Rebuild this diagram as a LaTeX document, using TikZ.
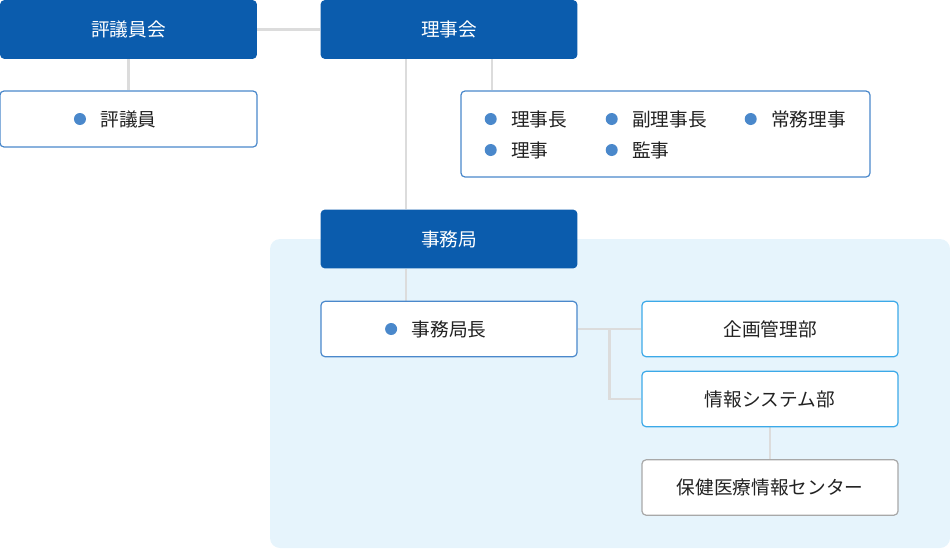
\documentclass[tikz,border=0pt]{standalone}
\usepackage{fontspec}
\setmainfont{Noto Sans CJK JP}
\usepackage{xcolor}
\usepackage{tikz}
\usetikzlibrary{calc,backgrounds}

\definecolor{headblue}{HTML}{0B5CAD}
\definecolor{itemblue}{HTML}{4A88CB}
\definecolor{deptblue}{HTML}{3CA9E8}
\definecolor{centergray}{HTML}{A8A8A8}
\definecolor{bgblue}{HTML}{E6F4FC}
\definecolor{linkgray}{HTML}{DCDCDC}
\definecolor{inkblack}{HTML}{222222}

\begin{document}
\begin{tikzpicture}[x=0.75pt,y=-0.75pt,
  every node/.style={font=\fontsize{14}{16}\selectfont,text=inkblack},
  head/.style={fill=headblue,text=white,rounded corners=3pt,inner sep=0pt,minimum width=192.5pt,minimum height=44pt},
  member/.style={draw=itemblue,line width=0.9pt,fill=white,rounded corners=3pt,inner sep=0pt},
  dept/.style={draw=deptblue,line width=0.9pt,fill=white,rounded corners=3pt,inner sep=0pt,minimum width=192pt,minimum height=41.5pt},
  item/.style={inner sep=0pt,label={[circle,fill=itemblue,inner sep=0pt,minimum size=9pt,label distance=10.5pt]left:{}}},
  link/.style={draw=linkgray,line width=2.2pt}]
\useasboundingbox (0,0) rectangle (950,550);

% Boards
\node[head] (hyogiinkai) at (128.5,29.5) {評議員会};
\node[head] (rijikai) at (449,29.5) {理事会};
\node[head] (jimukyoku) at (449,239) {事務局};

% Members
\node[member,minimum width=192.75pt,minimum height=42pt] (hyogiin) at (128.5,119) {};
\node[item] (hyogiinT) at (hyogiin.center) {評議員};

\node[member,minimum width=306.75pt,minimum height=64.5pt] (yakuin) at (665.5,134) {};
\node[item,anchor=west] (rijicho) at (511,119) {理事長};
\node[item,anchor=west] (fukurijicho) at (632,119) {副理事長};
\node[item,anchor=west] (jomuriji) at (771,119) {常務理事};
\node[item,anchor=west] (riji) at (511,150) {理事};
\node[item,anchor=west] (kanji) at (632,150) {監事};

\node[member,minimum width=192pt,minimum height=41.5pt] (kyokucho) at (449,329) {};
\node[item] (kyokuchoT) at (kyokucho.center) {事務局長};

% Divisions
\node[dept] (kikaku) at (770,329) {企画管理部};
\node[dept] (joho) at (770,399) {情報システム部};
\node[dept,draw=centergray] (center) at (770,487.5) {保健医療情報センター};

\begin{scope}[on background layer]
% Secretariat area
\fill[bgblue,rounded corners=7.5pt] (270,239) rectangle (950,548);

% Links
\coordinate (rjleft) at ([xshift=-32.25pt]rijikai.south);
\coordinate (rjright) at ([xshift=32.25pt]rijikai.south);
\coordinate (jmleft) at ([xshift=-32.25pt]jimukyoku.south);
\coordinate (fork) at ($(kyokucho.east)!0.5!(kikaku.west)$);
\draw[link] (hyogiinkai.east) -- (rijikai.west);
\draw[link] (hyogiinkai.south) -- (hyogiin.north);
\draw[link] (rjleft) -- (rjleft |- jimukyoku.north);
\draw[link] (rjright) -- (rjright |- yakuin.north);
\draw[link] (jmleft) -- (jmleft |- kyokucho.north);
\draw[link] (kyokucho.east) -- (kikaku.west);
\draw[link] (fork) |- (joho.west);
\draw[link] (joho.south) -- (center.north);
\end{scope}
\end{tikzpicture}
\end{document}
